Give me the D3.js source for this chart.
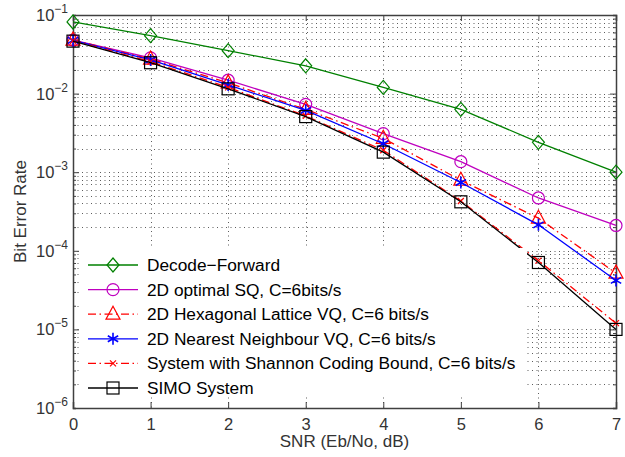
<!DOCTYPE html>
<html>
<head>
<meta charset="utf-8">
<script src="https://cdn.jsdelivr.net/npm/d3@7"></script>
<style>
  body { margin: 0; background: #fff; }
  text { font-family: "Liberation Sans", Arial, sans-serif; }
</style>
</head>
<body>
<div id="chart"></div>
<script>
const snr = [0, 1, 2, 3, 4, 5, 6, 7];
const decodeForward = [0.0815, 0.0546, 0.0352, 0.0226, 0.012, 0.0063, 0.0024, 0.001];
const optimalSQ = [0.048, 0.0285, 0.0148, 0.0073, 0.0031, 0.00136, 0.00047, 0.00021];
const hexLattice = [0.048, 0.0275, 0.0137, 0.0063, 0.0027, 0.00079, 0.00026, 0.000052];
const nearestVQ = [0.0475, 0.0268, 0.0129, 0.0061, 0.0023, 0.00074, 0.000214, 0.000042];
const shannon = [0.047, 0.0255, 0.012, 0.0052, 0.0019, 0.00043, 0.000075, 0.000012];
const simo = [0.0465, 0.0247, 0.0115, 0.0051, 0.0018, 0.00042, 0.000071, 0.00001];

const series = [
  { name: 'Decode\u2212Forward', values: decodeForward, color: '#008000', dash: null, marker: 'diamond' },
  { name: '2D optimal SQ, C=6bits/s', values: optimalSQ, color: '#bf00bf', dash: null, marker: 'circle' },
  { name: '2D Hexagonal Lattice VQ, C=6 bits/s', values: hexLattice, color: '#ff0000', dash: '8,3.5,1.5,3.5', marker: 'triangle' },
  { name: '2D Nearest Neighbour VQ, C=6 bits/s', values: nearestVQ, color: '#0000ff', dash: null, marker: 'star' },
  { name: 'System with Shannon Coding Bound, C=6 bits/s', values: shannon, color: '#ff0000', dash: '8,3.5,1.5,3.5', marker: 'x' },
  { name: 'SIMO System', values: simo, color: '#000000', dash: null, marker: 'square' }
];

const width = 625, height = 457;
const margin = { top: 15, right: 9, bottom: 49, left: 73 };
const iw = width - margin.left - margin.right;
const ih = height - margin.top - margin.bottom;

const svg = d3.select('#chart').append('svg')
  .attr('width', width)
  .attr('height', height);

const x = d3.scaleLinear().domain([0, 7]).range([0, iw]);
const y = d3.scaleLog().domain([1e-6, 1e-1]).range([ih, 0]);

const g = svg.append('g').attr('transform', `translate(${margin.left},${margin.top})`);

// minor + major log ticks
const yTicks = [];
for (let e = -6; e < -1; e++) {
  for (let m = 1; m < 10; m++) yTicks.push(m * Math.pow(10, e));
}
yTicks.push(1e-1);
const majorY = [1e-6, 1e-5, 1e-4, 1e-3, 1e-2, 1e-1];

// grid
const grid = g.append('g').attr('class', 'grid')
  .attr('stroke', '#333').attr('stroke-width', 0.8).attr('stroke-dasharray', '1,3.5');
grid.selectAll('line.gy').data(yTicks.filter(v => v > 1e-6 && v < 1e-1)).enter().append('line')
  .attr('x1', 0).attr('x2', iw)
  .attr('y1', d => Math.round(y(d)) + 0.5).attr('y2', d => Math.round(y(d)) + 0.5);
grid.selectAll('line.gx').data(snr.slice(1, -1)).enter().append('line')
  .attr('y1', 0).attr('y2', ih)
  .attr('x1', d => Math.round(x(d)) + 0.5).attr('x2', d => Math.round(x(d)) + 0.5);

// axes
const axisColor = '#404040';
const xAxis = g.append('g').attr('transform', `translate(0,${ih})`)
  .call(d3.axisBottom(x).tickValues(snr).tickSize(-6).tickPadding(10).tickFormat(d3.format('d')));
const xAxisTop = g.append('g')
  .call(d3.axisTop(x).tickValues(snr).tickSize(-6).tickFormat(''));
const yAxis = g.append('g')
  .call(d3.axisLeft(y).tickValues(yTicks).tickSize(-3).tickFormat(''));
const yAxisR = g.append('g').attr('transform', `translate(${iw},0)`)
  .call(d3.axisRight(y).tickValues(yTicks).tickSize(-3).tickFormat(''));
[yAxis, yAxisR].forEach(a => a.selectAll('.tick line')
  .filter(d => majorY.includes(d)).attr('x2', a === yAxis ? 6 : -6));
[xAxis, xAxisTop, yAxis, yAxisR].forEach(a => {
  a.select('.domain').attr('stroke', axisColor).attr('stroke-width', 1.5);
  a.selectAll('.tick line').attr('stroke', axisColor).attr('stroke-width', 1);
});
xAxis.selectAll('.tick text').attr('font-size', 16.5).attr('fill', '#333')
  .style('font-family', '"Liberation Sans", Arial, sans-serif');

// y tick labels with superscripts
const yl = g.append('g');
majorY.forEach(v => {
  const e = Math.round(Math.log10(v));
  const t = yl.append('text')
    .attr('x', -5).attr('y', y(v) + 6)
    .attr('text-anchor', 'end').attr('font-size', 16.5).attr('fill', '#333');
  t.append('tspan').text('10');
  t.append('tspan').attr('dy', -8).attr('font-size', 12).text('\u2212' + (-e));
});

// markers
function drawMarker(sel, type, color) {
  sel.attr('fill', 'none').attr('stroke', color).attr('stroke-width', 1.2);
  if (type === 'diamond') sel.append('path').attr('d', 'M0,-7L6,0L0,7L-6,0Z');
  else if (type === 'circle') sel.append('circle').attr('r', 6);
  else if (type === 'triangle') sel.append('path').attr('d', 'M0,-8L7,5L-7,5Z');
  else if (type === 'square') sel.append('rect').attr('x', -6).attr('y', -6).attr('width', 12).attr('height', 12);
  else if (type === 'x') sel.append('path').attr('d', 'M-3,-3L3,3M-3,3L3,-3');
  else if (type === 'star') sel.append('path').attr('d', 'M0,-6V6M-5.2,-3L5.2,3M-5.2,3L5.2,-3').attr('stroke-width', 1.6);
}

const line = d3.line().x((d, i) => x(snr[i])).y(d => y(d));
const plot = g.append('g');
series.forEach(s => {
  plot.append('path').datum(s.values)
    .attr('d', line)
    .attr('fill', 'none')
    .attr('stroke', s.color)
    .attr('stroke-width', 1.3)
    .attr('stroke-dasharray', s.dash);
  s.values.forEach((v, i) => {
    const m = plot.append('g').attr('transform', `translate(${x(snr[i])},${y(v)})`);
    drawMarker(m, s.marker, s.color);
  });
});

// legend
const lg = g.append('g').attr('transform', 'translate(7,233)');
lg.append('rect').attr('x', 0).attr('y', 0).attr('width', 447).attr('height', 148).attr('fill', '#fff');
series.forEach((s, i) => {
  const yy = 17 + i * 24.6;
  lg.append('line').attr('x1', 8).attr('x2', 58).attr('y1', yy).attr('y2', yy)
    .attr('stroke', s.color).attr('stroke-width', 1.3).attr('stroke-dasharray', s.dash);
  const m = lg.append('g').attr('transform', `translate(33,${yy})`);
  drawMarker(m, s.marker, s.color);
  lg.append('text').attr('x', 67).attr('y', yy + 6).attr('font-size', 17.3).attr('fill', '#000').text(s.name);
});

// axis labels
svg.append('text').attr('x', margin.left + iw / 2).attr('y', 447)
  .attr('text-anchor', 'middle').attr('font-size', 17).attr('fill', '#333')
  .text('SNR (Eb/No, dB)');
svg.append('text').attr('transform', `translate(26,${margin.top + ih / 2}) rotate(-90)`)
  .attr('text-anchor', 'middle').attr('font-size', 17).attr('fill', '#333')
  .text('Bit Error Rate');
</script>
</body>
</html>
